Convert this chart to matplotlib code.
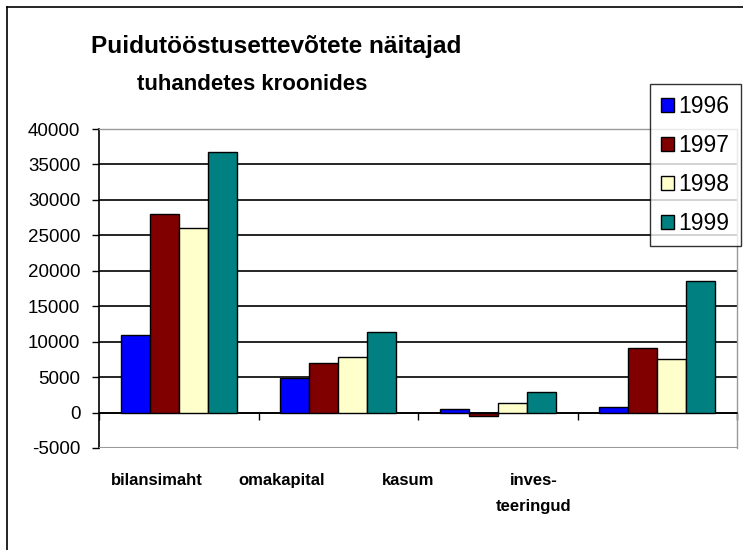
import matplotlib
matplotlib.use("Agg")
import matplotlib.pyplot as plt
import matplotlib.transforms as mtransforms
from matplotlib.lines import Line2D
from matplotlib.patches import Patch
import numpy as np

plt.rcParams['font.family'] = ['Liberation Sans', 'DejaVu Sans']

categories = ["bilansimaht", "omakapital", "kasum", "inves-\nteeringud"]
years = ["1996", "1997", "1998", "1999"]
v1996 = [11000, 4900, 500, 800]
v1997 = [28000, 7000, -500, 9100]
v1998 = [26100, 7800, 1300, 7500]
v1999 = [36800, 11300, 2900, 18500]
series = [v1996, v1997, v1998, v1999]
colors = ["#0000FF", "#800000", "#FFFFCC", "#008080"]
yticks = list(range(-5000, 40001, 5000))

W, H = 743, 550
fig = plt.figure(figsize=(W / 100, H / 100), dpi=100)
ax = fig.add_axes([99 / W, 1 - 448 / H, 638 / W, 319 / H])

x = np.arange(len(categories))
bw = 1 / 5.5
for i, (vals, c, lab) in enumerate(zip(series, colors, years)):
    ax.bar(x + (i - 1.5) * bw, vals, width=bw, color=c, edgecolor='black',
           linewidth=1, label=lab, zorder=3)

ax.set_xlim(-0.5, len(categories) - 0.5)
ax.set_ylim(yticks[0], yticks[-1])
ax.set_yticks(yticks)
ax.set_yticklabels([str(t) for t in yticks], fontsize=13.5)
ax.tick_params(axis='y', direction='out', length=5, width=1, color='black', pad=8.4)
ax.yaxis.grid(True, color='black', linewidth=1.2, zorder=0)
ax.set_axisbelow(True)
gl = ax.get_ygridlines()
gl[0].set_visible(False)
gl[-1].set_visible(False)

# x axis at zero with tick marks at category boundaries
ax.spines['bottom'].set_position(('data', 0))
ax.spines['bottom'].set_color('black')
ax.spines['bottom'].set_linewidth(1.2)
ax.set_xticks(np.arange(len(categories) + 1) - 0.5)
ax.set_xticklabels([])
ax.tick_params(axis='x', direction='out', length=5, width=1, color='black')

ax.spines['left'].set_color('black')
ax.spines['left'].set_linewidth(1.2)
for s in ['top', 'right']:
    ax.spines[s].set_color('#999999')
    ax.spines[s].set_linewidth(1)
ax.axhline(yticks[0], color='#999999', linewidth=1.5, zorder=4)

# category labels (the original places them on a compressed spacing)
trans = mtransforms.blended_transform_factory(ax.transData, ax.transAxes)
label_x = x * 0.788 - 0.14
for xi, cat in zip(label_x, categories):
    ax.text(xi, -0.077, cat, transform=trans, ha='center', va='top',
            fontsize=12, fontweight='bold', linespacing=1.95)

fig.text(276 / W, 1 - 53 / H, "Puidutööstusettevõtete näitajad", ha='center',
         va='baseline', fontsize=17.6, fontweight='bold')
fig.text(252.5 / W, 1 - 90 / H, "tuhandetes kroonides", ha='center',
         va='baseline', fontsize=16, fontweight='bold')

handles = [Patch(facecolor=c, edgecolor='black', linewidth=1) for c in colors]
leg = fig.legend(handles, years, loc='upper left',
                 bbox_to_anchor=(650 / W, 1 - 84 / H), fontsize=16.5,
                 frameon=True, fancybox=False, edgecolor='black',
                 handlelength=0.55, handleheight=0.55, handletextpad=0.2,
                 labelspacing=0.69, borderpad=0.5, borderaxespad=0)
leg.get_frame().set_linewidth(1)

fig.add_artist(Line2D([7 / W, 7 / W], [0, 1 - 7 / H], color='black', linewidth=1.2))
fig.add_artist(Line2D([7 / W, 1], [1 - 7 / H, 1 - 7 / H], color='black', linewidth=1.2))

fig.savefig("out.png", dpi=100)
